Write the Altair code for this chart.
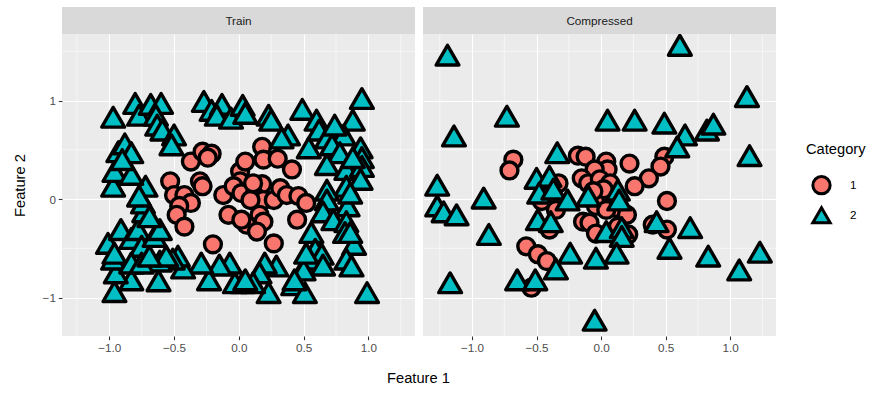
import altair as alt
import pandas as pd

FONT = "Liberation Sans"

# ---------------- data ----------------
train_circles = [
    (-0.53, 0.18), (-0.50, 0.04), (-0.42, 0.04), (-0.37, -0.04), (-0.46, -0.07), (-0.48, -0.16),
    (-0.42, -0.28), (-0.37, 0.38), (-0.28, 0.48), (-0.21, 0.46), (-0.24, 0.42), (-0.30, 0.18),
    (-0.28, 0.13), (-0.20, -0.46), (-0.12, 0.04), (-0.08, -0.16), (0.01, 0.28), (0.05, 0.38),
    (0.01, 0.18), (-0.04, 0.13), (0.02, 0.06), (0.18, 0.53), (0.19, 0.40), (0.30, 0.41),
    (0.41, 0.30), (0.18, 0.15), (0.12, 0.04), (0.19, -0.01), (0.27, -0.01), (0.32, 0.11),
    (0.37, 0.04), (0.46, 0.03), (0.52, -0.04), (0.45, -0.21), (0.16, -0.16), (0.19, -0.23),
    (0.06, -0.26), (0.14, -0.33), (0.27, -0.45), (0.02, -0.21), (0.09, -0.01), (0.11, 0.16),
]

train_triangles = [
    (-0.97, 0.83), (-0.80, 0.97), (-0.77, 0.85), (-0.68, 0.96), (-0.60, 0.97), (-0.64, 0.85),
    (-0.63, 0.75), (-0.59, 0.70), (-0.50, 0.65), (-0.52, 0.55), (-0.27, 0.99), (-0.21, 0.90),
    (-0.13, 0.96), (-0.17, 0.85), (-0.06, 0.82), (0.03, 0.95), (0.05, 0.87), (0.23, 0.85),
    (0.25, 0.80), (0.49, 0.91), (0.60, 0.80), (0.62, 0.70), (0.38, 0.65), (0.33, 0.62),
    (0.54, 0.52), (0.95, 1.02), (0.88, 0.80), (0.73, 0.67), (0.81, 0.65), (0.68, 0.62),
    (0.72, 0.55), (0.78, 0.47), (0.68, 0.35), (0.83, 0.30), (0.94, 0.52), (0.95, 0.42),
    (0.95, 0.33), (0.94, 0.20), (0.83, 0.13), (0.84, -0.07), (0.68, 0.09), (0.68, -0.01),
    (0.65, -0.13), (0.73, -0.21), (0.83, -0.23), (0.82, -0.34), (0.89, -0.46), (0.83, -0.61),
    (0.87, -0.68), (0.99, -0.95), (0.56, -0.34), (0.59, -0.51), (0.64, -0.56), (0.54, -0.61),
    (0.65, -0.67), (0.50, -0.72), (0.42, -0.87), (0.51, -0.95), (0.29, -0.68), (0.20, -0.65),
    (0.16, -0.75), (0.23, -0.95), (0.11, -0.85), (0.03, -0.85), (-0.03, -0.85), (-0.07, -0.65),
    (-0.15, -0.67), (-0.23, -0.82), (-0.29, -0.65), (-0.43, -0.70), (-0.47, -0.58), (-0.51, -0.61),
    (-0.62, -0.83), (-0.61, -0.63), (-0.56, -0.58), (-0.83, -0.82), (-0.96, -0.94), (-0.95, -0.75),
    (-0.97, -0.61), (-1.01, -0.45), (-0.91, -0.31), (-0.96, -0.55), (-0.83, -0.40), (-0.78, -0.31),
    (-0.75, -0.48), (-0.83, -0.65), (-0.75, -0.65), (-0.69, -0.58), (-0.65, -0.38), (-0.61, -0.31),
    (-0.73, -0.13), (-0.74, -0.04), (-0.72, 0.13), (-0.77, 0.03), (-0.69, -0.18), (-0.97, 0.13),
    (-0.96, 0.28), (-0.83, 0.25), (-0.93, 0.48), (-0.88, 0.56), (-0.83, 0.47), (-0.90, 0.40),
    (0.86, 0.06), (0.86, -0.34), (0.52, -0.55), (0.43, -0.82), (0.05, -0.82), (0.74, 0.75),
    (0.88, 0.42),
]

comp_circles = [
    (-0.68, 0.40), (-0.71, 0.29), (-0.18, 0.44), (-0.12, 0.43), (0.04, 0.38), (0.05, 0.30),
    (-0.05, 0.30), (0.22, 0.36), (0.49, 0.43), (0.46, 0.33), (0.37, 0.21), (0.26, 0.13),
    (0.51, -0.02), (-0.15, 0.21), (-0.10, 0.16), (-0.01, 0.20), (0.07, 0.16), (-0.33, 0.16),
    (-0.36, -0.04), (-0.46, -0.02), (-0.35, -0.11), (-0.04, -0.07), (0.11, -0.09), (0.20, -0.16),
    (-0.14, -0.23), (-0.09, -0.24), (-0.04, -0.35), (0.13, -0.28), (0.21, -0.36), (0.40, -0.26),
    (0.51, -0.31), (-0.40, -0.31), (-0.58, -0.48), (-0.49, -0.56), (-0.42, -0.63), (-0.54, -0.90),
    (0.00, 0.03), (0.08, 0.01), (0.04, -0.11), (0.02, 0.10), (-0.06, 0.08),
]

comp_triangles = [
    (-1.19, 1.46), (0.61, 1.56), (1.13, 1.04), (-0.73, 0.84), (-1.14, 0.64), (0.05, 0.80),
    (0.26, 0.80), (0.49, 0.77), (0.65, 0.65), (0.59, 0.53), (0.82, 0.70), (0.87, 0.76),
    (1.15, 0.44), (-0.34, 0.47), (-1.27, 0.14), (-1.27, -0.07), (-1.22, -0.13), (-1.12, -0.16),
    (-0.91, 0.01), (-0.87, -0.36), (-1.17, -0.85), (-0.50, 0.21), (-0.40, 0.23), (-0.48, 0.06),
    (-0.37, 0.10), (-0.26, -0.01), (-0.10, 0.03), (0.13, 0.09), (0.14, -0.01), (-0.49, -0.21),
    (-0.39, -0.23), (0.04, -0.33), (0.16, -0.29), (0.16, -0.38), (0.43, -0.23), (0.69, -0.29),
    (0.53, -0.50), (0.12, -0.55), (-0.04, -0.60), (-0.24, -0.55), (-0.35, -0.71), (-0.65, -0.82),
    (-0.51, -0.82), (-0.05, -1.23), (0.83, -0.58), (1.07, -0.72), (1.23, -0.54),
]

categories = ["1", "2"]
panel_labels = ["Train", "Compressed"]
x_major = [-1.0, -0.5, 0.0, 0.5, 1.0]
x_minor = [-1.25, -0.75, -0.25, 0.25, 0.75, 1.25]
y_major = [-1, 0, 1]
y_minor = [-0.5, 0.5, 1.5]

# ---------------- layout / style ----------------
PW, PH, STRIP = 353, 302, 27
YDOM = [-1.39, 1.675]
XDOM_TRAIN = [-1.365, 1.36]
XDOM_COMP = [-1.38, 1.355]


def to_df(pairs, cat):
    return pd.DataFrame({"f1": [p[0] for p in pairs], "f2": [p[1] for p in pairs],
                         "Category": [cat] * len(pairs)})


legend = alt.Legend(
    title="Category", orient="none", legendX=744, legendY=108, padding=0,
    titleFont=FONT, titleFontSize=14.7, titleFontWeight="normal", titleColor="black",
    titlePadding=18, labelFont=FONT, labelFontSize=11.7, labelColor="black",
    symbolStrokeWidth=3, symbolSize=300,
    rowPadding=1, labelOffset=18, symbolOffset=5,
)


def panel(circ, tri, label, xdom, left):
    xs = alt.Scale(domain=xdom, nice=False, zero=False)
    ys = alt.Scale(domain=YDOM, nice=False, zero=False)
    xaxis = alt.Axis(values=x_major, format=".1f", title=None)
    if left:
        yaxis = alt.Axis(values=y_major, format="d", title="Feature 2", titleFont=FONT,
                         titleFontSize=14.7, titleFontWeight="normal", titleColor="black",
                         titlePadding=15)
    else:
        yaxis = alt.Axis(values=y_major, labels=False, ticks=False, title=None)

    xmin = alt.Chart(pd.DataFrame({"f1": x_minor})).mark_rule(color="white", strokeWidth=0.55).encode(
        x=alt.X("f1:Q", scale=xs, axis=xaxis))
    ymin = alt.Chart(pd.DataFrame({"f2": y_minor})).mark_rule(color="white", strokeWidth=0.55).encode(
        y=alt.Y("f2:Q", scale=ys, axis=yaxis))

    def pts(df, size):
        return alt.Chart(df).mark_point(
            filled=True, opacity=1, strokeWidth=3.4, strokeJoin="round", size=size
        ).encode(
            x=alt.X("f1:Q", scale=xs, axis=xaxis),
            y=alt.Y("f2:Q", scale=ys, axis=yaxis),
            fill=alt.Fill("Category:N", scale=alt.Scale(domain=categories, range=["#F8766D", "#00BFC4"]),
                          legend=legend),
            shape=alt.Shape("Category:N", scale=alt.Scale(domain=categories, range=["circle", "triangle-up"]),
                            legend=legend),
            stroke=alt.Stroke("Category:N", scale=alt.Scale(domain=categories, range=["black", "black"]),
                              legend=legend),
        )

    pc = pts(to_df(circ, categories[0]), 285)
    pt = pts(to_df(tri, categories[1]), 520)

    sdf = pd.DataFrame({"t": [label]})
    srect = alt.Chart(sdf).mark_rect(color="#D9D9D9").encode(
        x=alt.value(0), x2=alt.value(PW), y=alt.value(-STRIP), y2=alt.value(0))
    stxt = alt.Chart(sdf).mark_text(font=FONT, fontSize=11.7, color="#1A1A1A", baseline="middle").encode(
        x=alt.value(PW / 2), y=alt.value(-STRIP / 2), text="t:N")
    layers = [xmin, ymin, pc, pt, srect, stxt]
    if left:
        tdf = pd.DataFrame({"t": ["Feature 1"]})
        xt = alt.Chart(tdf).mark_text(font=FONT, fontSize=14.7, color="black", baseline="middle").encode(
            x=alt.value(356.5), y=alt.value(PH + 43), text="t:N")
        layers.append(xt)
    return alt.layer(*layers).properties(
        width=PW, height=PH, view=alt.ViewBackground(fill="#EBEBEB", strokeWidth=0))


left = panel(train_circles, train_triangles, panel_labels[0], XDOM_TRAIN, True)
right = panel(comp_circles, comp_triangles, panel_labels[1], XDOM_COMP, False)

chart = alt.hconcat(left, right, spacing=8, bounds="flush").properties(
    padding={"left": 12, "top": 7, "right": 0, "bottom": 0}
).configure_view(strokeWidth=0).configure_axis(
    domain=False, grid=True, gridColor="white", gridWidth=1.1,
    tickColor="#333333", tickSize=3.7, tickWidth=1.07,
    labelFont=FONT, labelFontSize=11.7, labelColor="#4D4D4D", labelPadding=2.9,
)

chart.save("out.html", embed_options={"renderer": "svg", "actions": False})
